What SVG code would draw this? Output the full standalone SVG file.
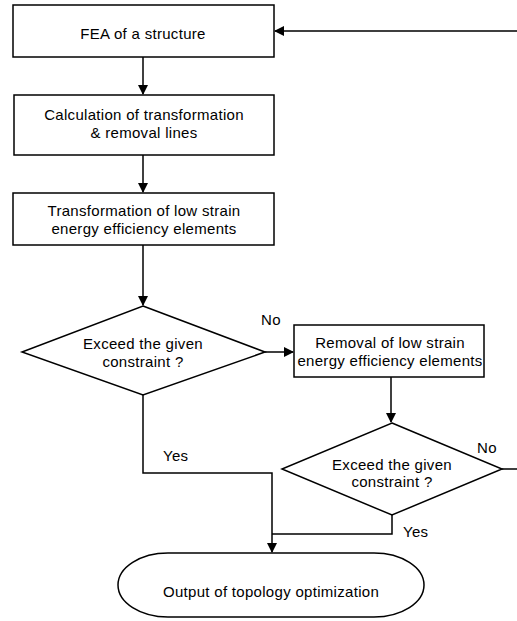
<svg xmlns="http://www.w3.org/2000/svg" width="517" height="621" viewBox="0 0 517 621">
<style>
.shape{fill:#fff;stroke:#000;stroke-width:1.5}
.conn{fill:none;stroke:#000;stroke-width:1.5}
text{font-family:"Liberation Sans",Arial,sans-serif;font-size:15px;letter-spacing:0.3px;fill:#000;text-anchor:middle}
.lbl{text-anchor:start}
</style>
<defs>
<marker id="ah" markerWidth="10" markerHeight="10" refX="9" refY="5" orient="auto" markerUnits="userSpaceOnUse">
<path d="M0,0 L10,5 L0,10 Z" fill="#000"/>
</marker>
</defs>
<rect width="517" height="621" fill="#fff"/>
<g id="connectors">
<path class="conn" d="M143,57 V94" marker-end="url(#ah)"/>
<path class="conn" d="M143,155 V192" marker-end="url(#ah)"/>
<path class="conn" d="M143,245 V305" marker-end="url(#ah)"/>
<path class="conn" d="M265,352 H293" marker-end="url(#ah)"/>
<path class="conn" d="M391,377 V422" marker-end="url(#ah)"/>
<path class="conn" d="M502,469 H530 V31 H275" marker-end="url(#ah)"/>
<path class="conn" d="M143,395 V473 H272 V552" marker-end="url(#ah)"/>
<path class="conn" d="M392,515 V534 H272"/>
<text class="lbl" x="261" y="325">No</text>
<text class="lbl" x="477" y="453">No</text>
<text class="lbl" x="163" y="461">Yes</text>
<text class="lbl" x="403" y="537">Yes</text>
</g>
<g id="fea">
<rect class="shape" x="13" y="5" width="261" height="52"/>
<text x="143" y="38.5">FEA of a structure</text>
</g>
<g id="calc">
<rect class="shape" x="14" y="95" width="260" height="60"/>
<text x="144" y="120">Calculation of transformation</text>
<text x="144" y="138">&amp; removal lines</text>
</g>
<g id="transform">
<rect class="shape" x="13" y="193" width="261" height="52"/>
<text x="144" y="216">Transformation of low strain</text>
<text x="144" y="234">energy efficiency elements</text>
</g>
<g id="decision1">
<polygon class="shape" points="143,306 265,352 143,395 22,352"/>
<text x="143" y="349">Exceed the given</text>
<text x="143" y="367">constraint ?</text>
</g>
<g id="removal">
<rect class="shape" x="294" y="325" width="190" height="52"/>
<text x="390" y="348">Removal of low strain</text>
<text x="390" y="366">energy efficiency elements</text>
</g>
<g id="decision2">
<polygon class="shape" points="392,423 502,469 392,515 282,469"/>
<text x="392" y="470">Exceed the given</text>
<text x="392" y="487">constraint ?</text>
</g>
<g id="output">
<rect class="shape" x="118" y="553" width="306" height="64" rx="50" ry="32"/>
<text x="271" y="597">Output of topology optimization</text>
</g>
</svg>
